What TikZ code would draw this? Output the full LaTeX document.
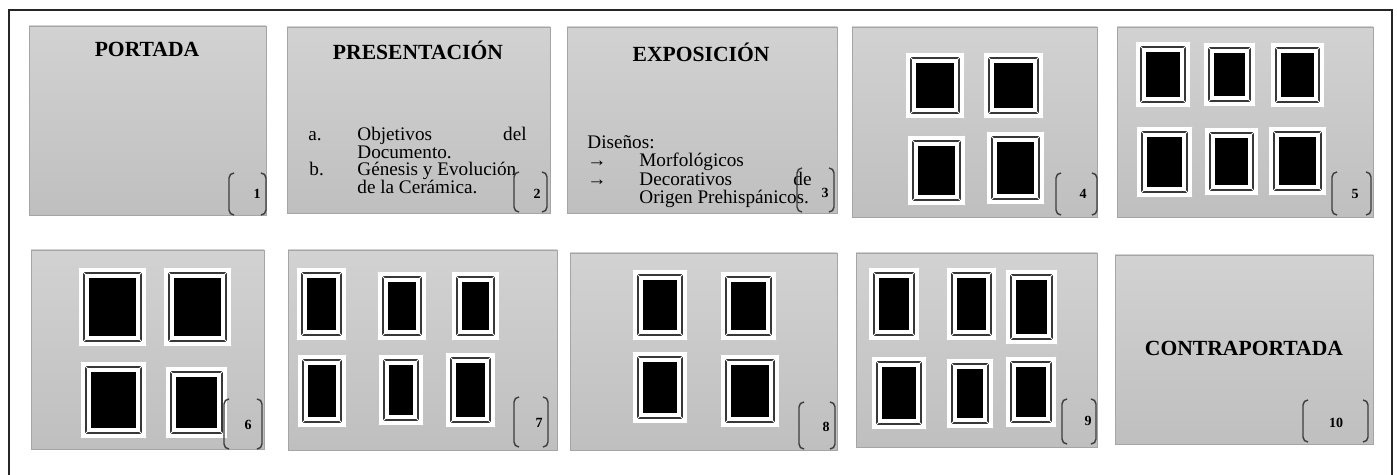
\documentclass[tikz,border=0pt]{standalone}
\usepackage{fontspec}
\setmainfont{Liberation Serif}
\usetikzlibrary{calc}
\definecolor{ptop}{RGB}{210,210,210}
\definecolor{pbot}{RGB}{191,191,191}
\definecolor{pedge}{RGB}{165,165,165}
\definecolor{fgray}{RGB}{55,55,55}
\definecolor{bgray}{RGB}{60,60,60}
\newcommand\pfr[4]{%
  \fill[white] (#1,#2) rectangle (#3,#4);
  \draw[fgray,line width=1.3pt] ($(#1,#2)+(5,5)$) rectangle ($(#3,#4)+(-5,-5)$);
  \draw[white,line width=0.5pt] (#1,#2) -- ++(10,10) (#3,#2) -- ++(-10,10)
     (#1,#4) -- ++(10,-10) (#3,#4) -- ++(-10,-10);
  \fill[black] ($(#1,#2)+(10,10)$) rectangle ($(#3,#4)+(-10,-10)$);}
\newcommand\brk[4]{%
  \draw[bgray,line width=0.7pt,rounded corners=2.5pt] (#1+5,#2) -- (#1,#2) -- (#1,#4) -- (#1+5,#4);
  \draw[bgray,line width=0.7pt,rounded corners=2.5pt] (#3-5,#2) -- (#3,#2) -- (#3,#4) -- (#3-5,#4);}
\tikzset{
  panel/.style={top color=ptop,bottom color=pbot,draw=pedge,line width=0.3pt},
  ttl/.style={font=\fontsize{10.8}{12}\selectfont\bfseries,anchor=base,inner sep=0pt},
  body/.style={font=\fontsize{9.6}{8.85}\selectfont,anchor=base west,inner sep=0pt},
  bodyr/.style={font=\fontsize{9.6}{8.85}\selectfont,anchor=base east,inner sep=0pt},
  num/.style={font=\fontsize{7}{8}\selectfont\bfseries,inner sep=0pt}
}
\begin{document}
\begin{tikzpicture}[x=0.5pt,y=-0.5pt]
\useasboundingbox (0,0) rectangle (1397,475);
\fill[white] (0,0) rectangle (1397,475);
\draw[black!85,line width=1pt] (8.6,475) -- (8.6,10) -- (1391.5,10) -- (1391.5,475);
% panels row 1
\shade[panel] (29,26) rectangle (266,215);
\shade[panel] (287,27) rectangle (550,213);
\shade[panel] (567,27) rectangle (837,213);
\shade[panel] (852,27) rectangle (1097,217);
\shade[panel] (1117,27) rectangle (1373,217);
% panels row 2
\shade[panel] (31,250) rectangle (264,449);
\shade[panel] (288,250) rectangle (557,450);
\shade[panel] (570,253) rectangle (837,450);
\shade[panel] (856,253) rectangle (1097,447);
\shade[panel] (1115,255) rectangle (1373,444);
% panel 1
\node[ttl] (t1) at (147,57) {PORTADA};
% panel 2
\node[ttl] (t2) at (418,60) {PRESENTACIÓN};
\node[body] (a) at (308,141) {a.};
\node[body] (a1) at (357,141) {Objetivos};
\node[bodyr] (a2) at (527,141) {del};
\node[body] (a3) at (357,159) {Documento.};
\node[body] (b) at (309,176) {b.};
\node[body] (b1) at (357,176) {Génesis y Evolución};
\node[body] (b2) at (357,194) {de la Cerámica.};
% panel 3
\node[ttl] (t3) at (701,62) {EXPOSICIÓN};
\node[body] (d0) at (587,149) {Diseños:};
\node[body] (d1a) at (587,167) {→};
\node[body] (d1) at (639,167) {Morfológicos};
\node[body] (d2a) at (587,186) {→};
\node[body] (d2) at (639,186) {Decorativos};
\node[bodyr] (d2b) at (812,186) {de};
\node[body] (d3) at (639,204) {Origen Prehispánicos.};
% panel 10
\node[ttl] (t10) at (1244,356) {CONTRAPORTADA};
% frames panel 4
\pfr{906}{53}{964}{118}\pfr{984}{53}{1043}{118}
\pfr{908}{136}{965}{205}\pfr{987}{132}{1044}{204}
% panel 5
\pfr{1136}{42}{1190}{107}\pfr{1204}{43}{1255}{106}\pfr{1271}{43}{1324}{107}
\pfr{1137}{127}{1192}{197}\pfr{1205}{128}{1258}{195}\pfr{1269}{127}{1326}{195}
% panel 6
\pfr{79}{268}{146}{346}\pfr{164}{268}{231}{346}
\pfr{81}{362}{146}{438}\pfr{166}{367}{227}{438}
% panel 7
\pfr{297}{268}{346}{340}\pfr{378}{272}{426}{340}\pfr{452}{272}{499}{340}
\pfr{298}{355}{346}{427}\pfr{379}{355}{423}{425}\pfr{446}{353}{495}{427}
% panel 8
\pfr{633}{270}{687}{340}\pfr{721}{272}{776}{340}
\pfr{633}{352}{687}{423}\pfr{721}{355}{779}{427}
% panel 9
\pfr{869}{268}{919}{340}\pfr{947}{268}{996}{340}\pfr{1006}{270}{1057}{344}
\pfr{872}{357}{926}{429}\pfr{947}{359}{993}{428}\pfr{1006}{357}{1056}{427}
% brackets
\brk{229}{173}{266}{215}\brk{514}{172}{547}{212}\brk{797}{168}{834}{212}
\brk{1056}{173}{1097}{215}\brk{1332}{172}{1371}{215}
\brk{224}{399}{262}{449}\brk{514}{397}{548}{447}\brk{799}{402}{835}{449}
\brk{1062}{399}{1096}{444}\brk{1303}{400}{1368}{442}
\node[num] (n1) at (257,194) {1};
\node[num] (n2) at (537,194) {2};
\node[num] (n3) at (825,193) {3};
\node[num] (n4) at (1083,194) {4};
\node[num] (n5) at (1355,194) {5};
\node[num] (n6) at (248,425) {6};
\node[num] (n7) at (539,423) {7};
\node[num] (n8) at (826,427) {8};
\node[num] (n9) at (1088,421) {9};
\node[num] (n10) at (1336,423) {10};
\end{tikzpicture}
\end{document}
